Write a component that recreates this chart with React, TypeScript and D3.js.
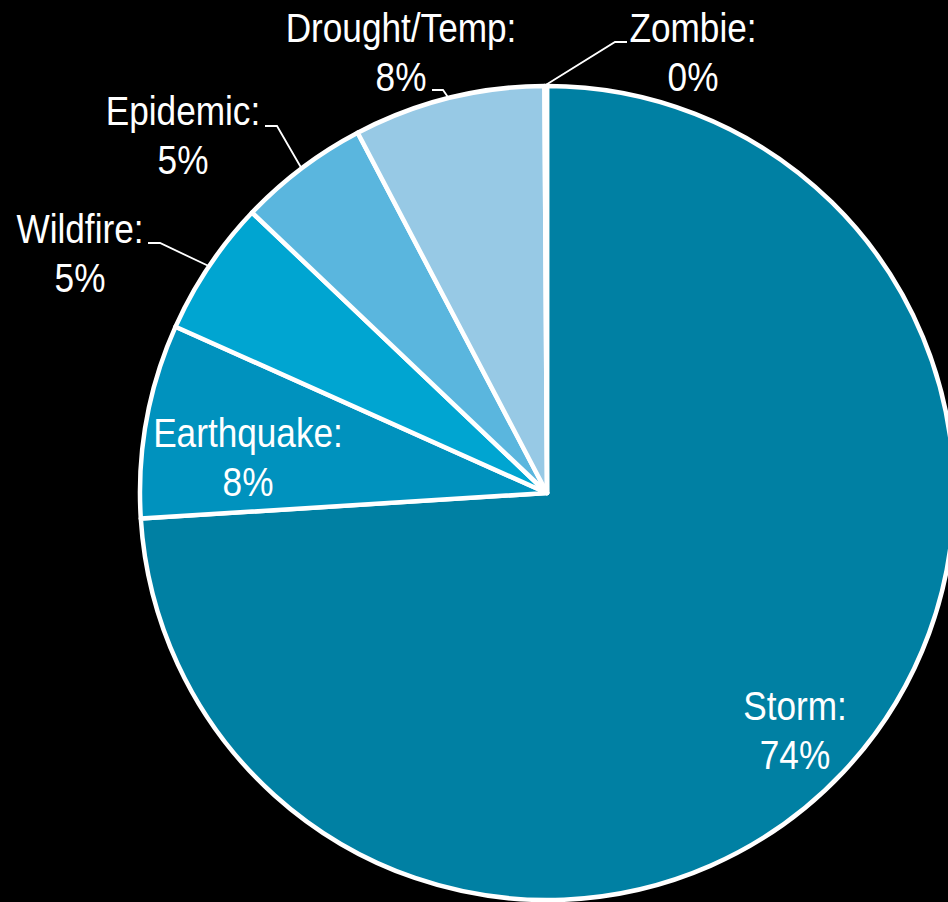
import React, { useEffect } from "react";
import * as d3 from "d3";

const categories = ["Storm", "Earthquake", "Wildfire", "Epidemic", "Drought/Temp", "Zombie"];
const shares = [74.0, 7.7, 5.4, 5.2, 7.6, 0.1];
const colors = ["#0080A3", "#0092BE", "#00A5D1", "#5AB6DE", "#97C9E5", "#0080A3"];

// label layout: [x center, baseline of first line]
const labelPos: [number, number][] = [
  [795, 720],
  [248, 447],
  [80, 243],
  [183, 125],
  [401, 42],
  [693, 42],
];
// leader: [x near label, x elbow, y]
const leaderStart: (null | [number, number, number])[] = [
  null,
  null,
  [148, 160, 243],
  [265, 277, 126],
  [432, 443, 90],
  [627, 615, 42],
];

const W = 948;
const H = 902;
const cx = 547;
const cy = 493;
const R = 407;
const SX = 0.88;

export default function App() {
  useEffect(() => {
    document.body.style.margin = "0";
    document.body.style.background = "#000";
  }, []);

  const pie = d3
    .pie<number>()
    .sort(null)
    .value((d) => d)
    .startAngle(0)
    .endAngle(2 * Math.PI);
  const arcs = pie(shares);
  const arc = d3.arc<d3.PieArcDatum<number>>().innerRadius(0).outerRadius(R);

  const fontFamily = "'Liberation Sans Narrow', 'Arial Narrow', 'Liberation Sans', Arial, sans-serif";

  return (
    <svg width={W} height={H} style={{ display: "block" }}>
      <rect x={0} y={0} width={W} height={H} fill="#000" />
      <g transform={`translate(${cx},${cy})`}>
        {arcs.map((a, i) => (
          <path key={i} d={arc(a) || ""} fill={colors[i]} stroke="#fff" strokeWidth={4.5} strokeLinejoin="round" />
        ))}
      </g>
      {arcs.map((a, i) => {
        const ls = leaderStart[i];
        if (!ls) return null;
        const mid = (a.startAngle + a.endAngle) / 2;
        const ex = cx + (R + 1) * Math.sin(mid);
        const ey = cy - (R + 1) * Math.cos(mid);
        return (
          <polyline
            key={"l" + i}
            points={`${ls[0]},${ls[2]} ${ls[1]},${ls[2]} ${ex},${ey}`}
            fill="none"
            stroke="#fff"
            strokeWidth={1.8}
          />
        );
      })}
      {categories.map((c, i) => {
        const pct = Math.round(shares[i]);
        const [x, y] = labelPos[i];
        return (
          <g key={"t" + i} transform={`translate(${x},${y}) scale(${SX},1)`}>
            <text x={0} y={0} fill="#fff" fontSize={40} fontFamily={fontFamily} textAnchor="middle">
              {c + ":"}
            </text>
            <text x={0} y={49} fill="#fff" fontSize={40} fontFamily={fontFamily} textAnchor="middle">
              {pct + "%"}
            </text>
          </g>
        );
      })}
    </svg>
  );
}
